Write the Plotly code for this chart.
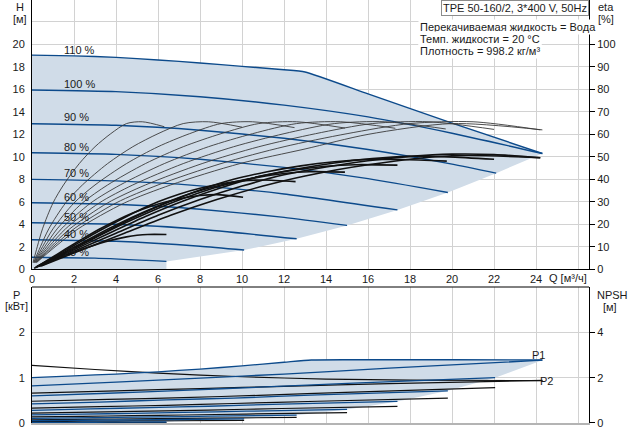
import plotly.graph_objects as go

FONT = "Liberation Sans, Arial, sans-serif"
BLUE = "#0c4a8b"
FILL = "#d0dce8"
GRID = "#d2d2d2"
THIN = "#3a3a3a"

# ---------------- data ----------------
speed_labels = ["110 %", "100 %", "90 %", "80 %", "70 %", "60 %", "50 %", "40 %", "25 %"]
label_h = [19.5, 16.45, 13.56, 10.9, 8.53, 6.4, 4.68, 3.14, 1.56]

x_ticks = [0, 2, 4, 6, 8, 10, 12, 14, 16, 18, 20, 22, 24, 26]
x_ticktext = ["0", "2", "4", "6", "8", "10", "12", "14", "16", "18", "20", "22", "24", ""]
h_ticks = [0, 2, 4, 6, 8, 10, 12, 14, 16, 18, 20, 22]
h_ticktext = ["0", "2", "4", "6", "8", "10", "12", "14", "16", "18", "20", ""]
eta_ticks = [0, 10, 20, 30, 40, 50, 60, 70, 80, 90, 100]
p_ticks = [0, 1, 2]
npsh_ticks = [0, 2, 4]

# Q-H curves per speed (order of speed_labels)
qh_q = [
    [0, 2, 4, 6, 8, 10, 12, 13, 16, 20, 24.3],
    [0, 4, 8, 12, 16, 20, 24.3],
    [0, 4, 8, 12, 16, 20, 22.1],
    [0, 4, 8, 12, 16, 19.8],
    [0, 4, 8, 12, 17.4],
    [0, 4, 8, 12, 15],
    [0, 4, 8, 12.6],
    [0, 4, 8, 10.1],
    [0, 3, 6.4],
]
qh_h = [
    [19.05, 18.98, 18.85, 18.62, 18.35, 18.05, 17.75, 17.55, 15.6, 13.0, 10.3],
    [15.95, 15.8, 15.35, 14.6, 13.55, 12.1, 10.3],
    [12.95, 12.81, 12.37, 11.65, 10.65, 9.35, 8.55],
    [10.36, 10.22, 9.78, 9.06, 8.06, 6.83],
    [8.0, 7.86, 7.42, 6.70, 5.28],
    [5.92, 5.78, 5.34, 4.62, 3.9],
    [4.14, 4.0, 3.56, 2.71],
    [2.63, 2.49, 2.05, 1.71],
    [1.07, 0.99, 0.70],
]

# pump efficiency curves (thin), eta in %
eta_q = [
    [0.22, 1.1, 2.2, 4.4, 6.6, 9.9, 13, 16, 20, 24.3],
    [0.2, 1, 2, 4, 6, 9, 12, 15, 18, 21, 24.2],
    [0.18, 0.9, 1.8, 3.6, 5.4, 8.1, 10.8, 13.5, 16.2, 18.9, 22.0],
    [0.16, 0.8, 1.6, 3.2, 4.8, 7.2, 9.6, 12, 14.4, 16.8, 19.7],
    [0.14, 0.7, 1.4, 2.8, 4.2, 6.3, 8.4, 10.5, 12.6, 14.7, 17.3],
    [0.12, 0.6, 1.2, 2.4, 3.6, 5.4, 7.2, 9, 10.8, 12.6, 14.9],
    [0.1, 0.5, 1, 2, 3, 4.5, 6, 7.5, 9, 10.5, 12.5],
    [0.08, 0.4, 0.8, 1.6, 2.4, 3.6, 4.8, 6, 7.2, 8.4, 10.0],
    [0.05, 0.25, 0.5, 1, 1.5, 2.25, 3, 3.75, 4.5, 5.25, 6.3],
]
eta_v = [
    [3, 10, 18, 29.5, 37.5, 47, 53.5, 60, 64.8, 62],
    [3, 10, 18, 29.5, 37.5, 47, 54.5, 60.3, 64.8, 65.6, 62],
    [3, 10, 18, 29.5, 37.5, 47, 54.5, 60.3, 64.8, 65.6, 62.2],
    [3, 10, 18, 29.5, 37.5, 47, 54.5, 60.3, 64.8, 65.6, 62.4],
    [3, 10, 18, 29.5, 37.5, 47, 54.5, 60.3, 64.8, 65.6, 62.7],
    [3, 10, 18, 29.5, 37.5, 47, 54.5, 60.3, 64.8, 65.6, 62.8],
    [3, 10, 18, 29.5, 37.5, 47, 54.5, 60.3, 64.8, 65.6, 63.0],
    [3, 10, 18, 29.5, 37.5, 47, 54.5, 60.3, 64.8, 65.6, 63.2],
    [3, 10, 18, 29.5, 37.5, 47, 54.5, 60.3, 64.8, 65.6, 63.4],
]

# total efficiency curves (thick)
etat_q = [
    [0.44, 2.2, 4.4, 6.6, 8.8, 11, 13, 16, 20, 24.2],
    [0.4, 2, 4, 6, 8, 10, 12, 14, 16, 18, 20, 22, 24.2],
    [0.36, 1.8, 3.6, 5.4, 7.2, 9, 10.8, 12.6, 14.4, 16.2, 18, 19.8, 22.0],
    [0.32, 1.6, 3.2, 4.8, 6.4, 8, 9.6, 11.2, 12.8, 14.4, 16, 17.6, 19.75],
    [0.28, 1.4, 2.8, 4.2, 5.6, 7, 8.4, 9.8, 11.2, 12.6, 14, 15.4, 17.4],
    [0.24, 1.2, 2.4, 3.6, 4.8, 6, 7.2, 8.4, 9.6, 10.8, 12, 13.2, 14.9],
    [0.2, 1, 2, 3, 4, 5, 6, 7, 8, 9, 10, 11, 12.55],
    [0.17, 0.8, 1.6, 2.4, 3.2, 4, 4.8, 5.6, 6.4, 7.2, 8, 8.8, 10.05],
    [0.1, 0.5, 1, 1.5, 2, 2.5, 3, 3.5, 4, 4.5, 5, 5.5, 6.4],
]
etat_v = [
    [1.5, 8, 16, 24, 31, 37, 41.5, 46.5, 50.5, 49.6],
    [1.5, 8, 16, 24, 31, 37, 42, 45.5, 48.3, 50.2, 51.2, 51, 49.6],
    [1.5, 7.8, 15.7, 23.5, 30.4, 36.3, 41.2, 44.6, 47.3, 49.2, 50.2, 50, 48.9],
    [1.4, 7.6, 15.2, 22.9, 29.5, 35.3, 40, 43.4, 46, 47.8, 48.8, 48.8, 48.1],
    [1.2, 6.5, 13, 19.6, 25.5, 30.8, 35.4, 39, 42, 44.3, 45.8, 46.5, 46.3],
    [1.1, 5.8, 11.8, 17.8, 23.3, 28.2, 32.6, 36, 38.8, 41, 42.6, 43.4, 43.2],
    [1.0, 5.2, 10.6, 16, 21, 25.8, 30, 33.4, 36, 38, 39.3, 39.7, 39],
    [0.8, 4.4, 9, 13.5, 17.8, 21.6, 25, 27.8, 30, 31.7, 32.8, 33.2, 32],
    [0.5, 2, 4, 5.8, 7.5, 9.2, 10.8, 12.2, 13.4, 14.4, 15.1, 15.5, 15.5],
]

# power P1 (blue) per speed
p1_q = [
    [0, 2, 4, 6, 8, 10, 12, 13.3, 16, 20, 24.3],
    [0, 4, 8, 12, 17, 24.3],
    [0, 3.6, 7.2, 10.8, 15.3, 22.05],
    [0, 3.2, 6.4, 9.6, 13.6, 19.8],
    [0, 2.8, 5.6, 8.4, 11.9, 17.4],
    [0, 2.4, 4.8, 7.2, 10.2, 15],
    [0, 2, 4, 6, 8.5, 12.6],
    [0, 1.6, 3.2, 4.8, 6.8, 10.1],
    [0, 1, 2, 3, 4.25, 6.4],
]
p1_v = [
    [1.0, 1.04, 1.08, 1.13, 1.19, 1.26, 1.34, 1.39, 1.395, 1.395, 1.39],
    [0.82, 0.9, 0.99, 1.08, 1.21, 1.385],
    [0.6, 0.656, 0.72, 0.79, 0.88, 1.0],
    [0.42, 0.46, 0.51, 0.55, 0.62, 0.71],
    [0.28, 0.31, 0.34, 0.37, 0.415, 0.475],
    [0.18, 0.195, 0.214, 0.233, 0.26, 0.30],
    [0.10, 0.113, 0.124, 0.135, 0.15, 0.173],
    [0.052, 0.058, 0.063, 0.069, 0.077, 0.089],
    [0.013, 0.014, 0.015, 0.017, 0.019, 0.022],
]
# power P2 (black) per speed
p2_q = [
    [0, 3, 6, 10, 14, 18, 24.3],
    [0, 4, 8, 12, 17, 24.3],
    [0, 3.6, 7.2, 10.8, 15.3, 22.05],
    [0, 3.2, 6.4, 9.6, 13.6, 19.8],
    [0, 2.8, 5.6, 8.4, 11.9, 17.4],
    [0, 2.4, 4.8, 7.2, 10.2, 15],
    [0, 2, 4, 6, 8.5, 12.6],
    [0, 1.6, 3.2, 4.8, 6.8, 10.1],
    [0, 1, 2, 3, 4.25, 6.4],
]
p2_v = [
    [1.27, 1.18, 1.1, 1.02, 0.97, 0.945, 0.935],
    [0.66, 0.71, 0.76, 0.81, 0.87, 0.94],
    [0.48, 0.52, 0.56, 0.61, 0.68, 0.78],
    [0.33, 0.36, 0.39, 0.43, 0.48, 0.55],
    [0.22, 0.24, 0.26, 0.285, 0.32, 0.365],
    [0.135, 0.148, 0.162, 0.177, 0.197, 0.228],
    [0.072, 0.08, 0.088, 0.096, 0.107, 0.124],
    [0.034, 0.038, 0.041, 0.045, 0.05, 0.058],
    [0.006, 0.0065, 0.007, 0.008, 0.009, 0.01],
]

fig = go.Figure()

# ---------------- top: fill region ----------------
fx = list(qh_q[0]) + [q[-1] for q in qh_q[1:]] + [qh_q[-1][-1], 0]
fy = list(qh_h[0]) + [h[-1] for h in qh_h[1:]] + [0, 0]
fig.add_trace(go.Scatter(x=fx, y=fy, fill="toself", fillcolor=FILL, mode="none",
                         xaxis="x", yaxis="y", hoverinfo="skip"))

# thin pump efficiency curves
for q, e in zip(eta_q, eta_v):
    fig.add_trace(go.Scatter(x=q, y=e, mode="lines", line=dict(color=THIN, width=0.9, shape="spline", smoothing=0.8),
                             xaxis="x", yaxis="y2", hoverinfo="skip"))
# Q-H curves
for q, h in zip(qh_q, qh_h):
    fig.add_trace(go.Scatter(x=q, y=h, mode="lines", line=dict(color=BLUE, width=1.4, shape="spline", smoothing=0.5),
                             xaxis="x", yaxis="y", hoverinfo="skip"))
# thick total efficiency curves
for q, e in zip(etat_q, etat_v):
    fig.add_trace(go.Scatter(x=q, y=e, mode="lines", line=dict(color="#111111", width=1.6, shape="spline", smoothing=0.8),
                             xaxis="x", yaxis="y2", hoverinfo="skip"))

# ---------------- bottom: power ----------------
bx = list(p1_q[0]) + [q[-1] for q in p1_q[1:]] + [p1_q[-1][-1], 0]
by = list(p1_v[0]) + [p[-1] for p in p1_v[1:]] + [0, 0]
fig.add_trace(go.Scatter(x=bx, y=by, fill="toself", fillcolor=FILL, mode="none",
                         xaxis="x2", yaxis="y3", hoverinfo="skip"))
for q, p in zip(p2_q, p2_v):
    fig.add_trace(go.Scatter(x=q, y=p, mode="lines", line=dict(color="#111111", width=1.2, shape="spline", smoothing=0.6),
                             xaxis="x2", yaxis="y3", hoverinfo="skip"))
for q, p in zip(p1_q, p1_v):
    fig.add_trace(go.Scatter(x=q, y=p, mode="lines", line=dict(color=BLUE, width=1.3, shape="spline", smoothing=0.6),
                             xaxis="x2", yaxis="y3", hoverinfo="skip"))
# placeholder so that the NPSH axis is drawn (no NPSH curve is visible)
fig.add_trace(go.Scatter(x=[None], y=[None], mode="lines", xaxis="x2", yaxis="y4",
                         hoverinfo="skip", showlegend=False))

# ---------------- layout ----------------
tickfont = dict(family=FONT, size=11, color="#1a1a1a")
fig.update_layout(
    width=629, height=431,
    margin=dict(l=32, r=40, t=0, b=8),
    paper_bgcolor="white", plot_bgcolor="white", showlegend=False,
    font=dict(family=FONT, size=11, color="#1a1a1a"),
    xaxis=dict(domain=[0, 1], range=[0, 26.52], anchor="y", tickvals=x_ticks, ticktext=x_ticktext,
               showgrid=True, gridcolor=GRID, gridwidth=1, showline=True, linecolor="black", linewidth=1,
               zeroline=False, ticks="", tickfont=tickfont),
    yaxis=dict(domain=[0.3634, 1], range=[0, 23.95], anchor="x", tickvals=h_ticks, ticktext=h_ticktext,
               showgrid=True, gridcolor=GRID, gridwidth=1, showline=True, linecolor="black", linewidth=1,
               zeroline=False, ticks="outside", ticklen=4, tickcolor="rgba(0,0,0,0)", tickfont=tickfont),
    yaxis2=dict(overlaying="y", side="right", anchor="x", range=[0, 119.75], tickvals=eta_ticks,
                showgrid=False, showline=True, linecolor="black", linewidth=1, zeroline=False,
                ticks="outside", ticklen=5, tickcolor="black", tickfont=tickfont),
    xaxis2=dict(domain=[0, 1], range=[0, 26.52], anchor="y3", tickvals=x_ticks, showticklabels=False,
                showgrid=True, gridcolor=GRID, showline=True, linecolor="#b4b4b4", linewidth=2,
                zeroline=False, ticks=""),
    yaxis3=dict(domain=[0, 0.3215], range=[0, 3.0], anchor="x2", tickvals=p_ticks,
                showgrid=True, gridcolor=GRID, showline=True, linecolor="black", linewidth=1,
                zeroline=False, ticks="outside", ticklen=4, tickcolor="rgba(0,0,0,0)", tickfont=tickfont),
    yaxis4=dict(overlaying="y3", side="right", anchor="x2", range=[0, 6.0], tickvals=npsh_ticks,
                showgrid=False, showline=True, linecolor="black", linewidth=1, zeroline=False,
                ticks="outside", ticklen=5, tickcolor="black", tickfont=tickfont),
)

# top border of the lower chart
fig.add_shape(type="line", xref="x2 domain", yref="y3 domain", x0=0, x1=1, y0=1, y1=1,
              line=dict(color="black", width=1))

ann = []
def txt(x, y, t, xa="center", ya="middle", xref="paper", yref="paper", **kw):
    ann.append(dict(x=x, y=y, text=t, xref=xref, yref=yref, xanchor=xa, yanchor=ya,
                    showarrow=False, font=dict(family=FONT, size=11, color="#1a1a1a"), **kw))

W, H0 = 557.0, 423.0
def px(xp):
    return (xp - 32) / W
def py(yp):
    return (H0 - yp) / H0

txt(px(20), py(7), "H")
txt(px(20), py(19), "[м]")
txt(px(596), py(7), "eta", xa="left")
txt(px(596), py(19), "[%]", xa="left")
txt(px(16), py(295), "P")
txt(px(16), py(306), "[кВт]")
txt(px(595), py(295), "NPSH", xa="left")
txt(px(610), py(307), "[м]")
txt(px(568), py(278), "Q [м³/ч]")

txt(1.0, 1.0, "TPE 50-160/2, 3*400 V, 50Hz", xa="right", ya="top",
    bordercolor="#8c8c8c", borderwidth=1, borderpad=1, bgcolor="white")
txt(px(418), py(27), "Перекачиваемая жидкость = Вода", xa="left", bgcolor="white")
txt(px(418), py(39), "Темп. жидкости = 20 °C", xa="left", bgcolor="white")
txt(px(418), py(51), "Плотность = 998.2 кг/м³", xa="left", bgcolor="white")

for lab, hv in zip(speed_labels, label_h):
    txt(1.45, hv, lab, xa="left", xref="x", yref="y")

txt(24.1, 1.5, "P1", xref="x2", yref="y3")
txt(24.5, 0.925, "P2", xref="x2", yref="y3")

fig.update_layout(annotations=ann)
fig.write_html("out.html")
